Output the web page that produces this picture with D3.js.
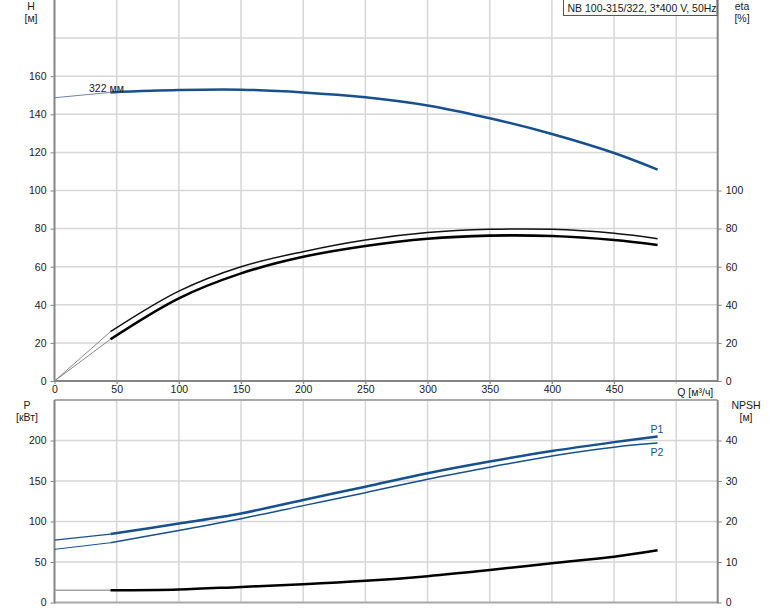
<!DOCTYPE html>
<html>
<head>
<meta charset="utf-8">
<script src="https://cdn.jsdelivr.net/npm/d3@7/dist/d3.min.js"></script>
<style>
  html, body { margin: 0; padding: 0; background: #fff; }
  svg { display: block; font-family: Arial, "Liberation Sans", sans-serif; }
</style>
</head>
<body>
<svg id="chart" width="774" height="611"></svg>
<script>
// ---------- data ----------
const flowQ       = [0, 45, 100, 150, 200, 250, 300, 350, 400, 450, 485];
const headH       = [148.7, 151.5, 152.7, 152.9, 151.5, 148.9, 144.6, 137.9, 129.7, 119.7, 111.0];
const etaPump     = [0, 25.9, 47.2, 60.0, 67.9, 74.0, 77.9, 79.6, 79.6, 77.5, 74.7];
const etaTotal    = [0, 21.9, 43.4, 56.5, 65.2, 70.9, 74.7, 76.3, 76.1, 74.0, 71.4];
const powerP1     = [77.0, 84.5, 97.5, 110.0, 126.6, 143.0, 159.6, 174.0, 187.0, 198.0, 205.0];
const powerP2     = [65.6, 73.8, 89.0, 103.5, 119.6, 135.6, 152.2, 167.0, 181.0, 191.8, 196.8];
const npshR       = [3.0, 3.0, 3.2, 3.85, 4.5, 5.35, 6.5, 8.0, 9.7, 11.3, 12.9];
const qMinOp      = 45;

const xTicks      = [0, 50, 100, 150, 200, 250, 300, 350, 400, 450];
const xUnitLabel  = "Q [м³/ч]";
const hTicks      = [0, 20, 40, 60, 80, 100, 120, 140, 160];
const hGrid       = [20, 40, 60, 80, 100, 120, 140, 160, 180];
const etaTicks    = [0, 20, 40, 60, 80, 100];
const pTicks      = [0, 50, 100, 150, 200];
const pGrid       = [50, 100, 150, 200];
const npshTicks   = [0, 10, 20, 30, 40];
const xGrid       = [50, 100, 150, 200, 250, 300, 350, 400, 450, 500];

const titleText   = "NB 100-315/322, 3*400 V, 50Hz";
const curveLabel  = "322 мм";

// ---------- layout ----------
const svg = d3.select("#chart");
const L = 54.5, R = 717.7;
const upTop = 0, upBot = 381;
const loTop = 400, loBot = 602.5;

const x = d3.scaleLinear().domain([0, 533.33]).range([L, R]);
const yH = d3.scaleLinear().domain([0, 200]).range([upBot, upTop]);
const yEta = d3.scaleLinear().domain([0, 200]).range([upBot, upTop]);
const yP = d3.scaleLinear().domain([0, 250]).range([loBot, loTop]);
const yN = d3.scaleLinear().domain([0, 50]).range([loBot, loTop]);

const gridCol = "#d6d6d6";
const axisCol = "#858585";
const blue = "#17508e";
const txt = "#1a1a1a";

// grid
const g = svg.append("g");
xGrid.forEach(v => {
  g.append("line").attr("x1", x(v)).attr("x2", x(v)).attr("y1", upTop).attr("y2", upBot + 3)
    .attr("stroke", gridCol).attr("stroke-width", 1.5);
  g.append("line").attr("x1", x(v)).attr("x2", x(v)).attr("y1", loTop).attr("y2", loBot)
    .attr("stroke", gridCol).attr("stroke-width", 1.5);
});
hGrid.forEach(v => {
  g.append("line").attr("x1", L).attr("x2", R).attr("y1", yH(v)).attr("y2", yH(v))
    .attr("stroke", gridCol).attr("stroke-width", 1.5);
});
pGrid.forEach(v => {
  g.append("line").attr("x1", L).attr("x2", R).attr("y1", yP(v)).attr("y2", yP(v))
    .attr("stroke", gridCol).attr("stroke-width", 1.5);
});

// axes via d3
const fs = "10.5px";
function styleAxis(sel) {
  sel.select(".domain").remove();
  sel.selectAll(".tick line").attr("stroke", axisCol).attr("stroke-width", 1);
  sel.selectAll(".tick text").attr("fill", txt).style("font-size", fs).style("font-family", "Arial, 'Liberation Sans', sans-serif");
}
svg.append("g").attr("transform", `translate(${L},0)`)
  .call(d3.axisLeft(yH).tickValues(hTicks).tickSize(4).tickPadding(4)).call(styleAxis);
svg.append("g").attr("transform", `translate(${R},0)`)
  .call(d3.axisRight(yEta).tickValues(etaTicks).tickSize(4).tickPadding(4)).call(styleAxis);
svg.append("g").attr("transform", `translate(${L},0)`)
  .call(d3.axisLeft(yP).tickValues(pTicks).tickSize(4).tickPadding(4)).call(styleAxis);
svg.append("g").attr("transform", `translate(${R},0)`)
  .call(d3.axisRight(yN).tickValues(npshTicks).tickSize(4).tickPadding(4)).call(styleAxis);
svg.append("g").attr("transform", `translate(0,${upBot})`)
  .call(d3.axisBottom(x).tickValues(xTicks).tickSize(3).tickPadding(2)).call(styleAxis);
svg.append("text").attr("x", x(500) + 1).attr("y", 395.5).attr("fill", txt)
  .style("font-size", fs).text(xUnitLabel);

// axis frame lines
svg.append("line").attr("x1", L).attr("x2", L).attr("y1", upTop).attr("y2", upBot + 1)
  .attr("stroke", axisCol).attr("stroke-width", 2);
svg.append("line").attr("x1", R).attr("x2", R).attr("y1", upTop).attr("y2", upBot + 1)
  .attr("stroke", axisCol).attr("stroke-width", 2);
svg.append("line").attr("x1", L).attr("x2", R).attr("y1", upBot).attr("y2", upBot)
  .attr("stroke", axisCol).attr("stroke-width", 2);
svg.append("line").attr("x1", L).attr("x2", R).attr("y1", loTop).attr("y2", loTop)
  .attr("stroke", "#a8a8a8").attr("stroke-width", 2);
svg.append("line").attr("x1", L).attr("x2", R).attr("y1", loBot).attr("y2", loBot)
  .attr("stroke", "#a8a8a8").attr("stroke-width", 2);
svg.append("line").attr("x1", L).attr("x2", L).attr("y1", loTop).attr("y2", loBot + 1)
  .attr("stroke", axisCol).attr("stroke-width", 2);
svg.append("line").attr("x1", R).attr("x2", R).attr("y1", loTop).attr("y2", loBot + 1)
  .attr("stroke", axisCol).attr("stroke-width", 2);

// axis titles
function label(t, xx, yy, anchor) {
  svg.append("text").attr("x", xx).attr("y", yy).attr("text-anchor", anchor || "middle")
    .attr("fill", txt).style("font-size", fs).text(t);
}
label("H", 31, 10);
label("[м]", 31, 22);
label("eta", 742, 10);
label("[%]", 742, 22);
label("P", 27, 409);
label("[кВт]", 27, 421);
label("NPSH", 746, 409);
label("[м]", 746, 421);

// curves
const idx = d3.range(flowQ.length);
function drawCurve(vals, yS, col, w, lo, hi) {
  const pts = idx.filter(i => flowQ[i] >= lo && flowQ[i] <= hi);
  const line = d3.line().x(i => x(flowQ[i])).y(i => yS(vals[i])).curve(d3.curveCatmullRom.alpha(0.5));
  svg.append("path").attr("d", line(pts)).attr("fill", "none")
    .attr("stroke", col).attr("stroke-width", w).attr("stroke-linecap", "butt");
}
const qMax = d3.max(flowQ);
// extensions (thin)
drawCurve(headH, yH, "#6f86a8", 1, 0, qMinOp);
drawCurve(etaPump, yEta, "#8a8a8a", 1, 0, qMinOp);
drawCurve(etaTotal, yEta, "#8a8a8a", 1, 0, qMinOp);
drawCurve(powerP1, yP, blue, 1.2, 0, qMinOp);
drawCurve(powerP2, yP, blue, 1, 0, qMinOp);
drawCurve(npshR, yN, "#a0a0a0", 1.5, 0, qMinOp);
// operating range
drawCurve(headH, yH, blue, 2.5, qMinOp, qMax);
drawCurve(etaPump, yEta, "#111", 1.5, qMinOp, qMax);
drawCurve(etaTotal, yEta, "#000", 2.6, qMinOp, qMax);
drawCurve(powerP1, yP, blue, 2.5, qMinOp, qMax);
drawCurve(powerP2, yP, blue, 1.5, qMinOp, qMax);
drawCurve(npshR, yN, "#000", 2.5, qMinOp, qMax);

// curve labels
svg.append("text").attr("x", 89).attr("y", 92).attr("fill", txt).style("font-size", fs).text(curveLabel);
svg.append("text").attr("x", 657).attr("y", 433).attr("text-anchor", "middle").attr("fill", blue).style("font-size", fs).text("P1");
svg.append("text").attr("x", 657).attr("y", 455.5).attr("text-anchor", "middle").attr("fill", blue).style("font-size", fs).text("P2");

// title box
svg.append("rect").attr("x", 563.5).attr("y", -1).attr("width", 153.5).attr("height", 16.5)
  .attr("fill", "#fff").attr("stroke", "#555").attr("stroke-width", 1);
svg.append("text").attr("x", 567.5).attr("y", 11.5).attr("fill", txt).style("font-size", fs).text(titleText);
</script>
</body>
</html>
